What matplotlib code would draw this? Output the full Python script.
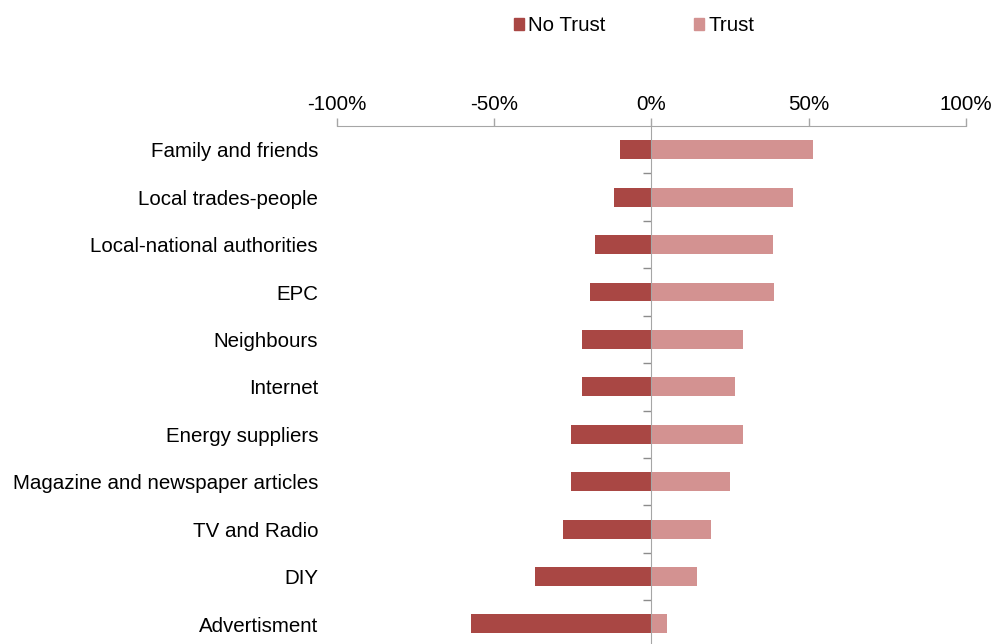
import matplotlib.pyplot as plt
from matplotlib.patches import Patch
from matplotlib.ticker import FixedLocator, FuncFormatter, NullFormatter

plt.rcParams['font.family'] = ['Liberation Sans', 'DejaVu Sans']

categories = ['Family and friends', 'Local trades-people', 'Local-national authorities',
              'EPC', 'Neighbours', 'Internet', 'Energy suppliers',
              'Magazine and newspaper articles', 'TV and Radio', 'DIY', 'Advertisment']
no_trust = [-10, -12, -18, -19.5, -22, -22, -25.5, -25.5, -28, -37, -57.5]
trust = [51.5, 45, 38.5, 39, 29, 26.5, 29, 25, 19, 14.5, 5]
xticks = [-100, -50, 0, 50, 100]

dark = '#A94744'
light = '#D39291'
grey = '#A6A6A6'

fig = plt.figure(figsize=(9.94, 6.44), dpi=100)
ax = fig.add_axes([0.339, -0.0056, 0.6328, 0.8099])

y = range(len(categories))
ax.barh(y, no_trust, height=0.4, color=dark)
ax.barh(y, trust, height=0.4, color=light)

ax.set_xlim(-100, 100)
ax.set_ylim(len(categories) - 0.5, -0.5)

# x axis on top
ax.xaxis.set_ticks_position('top')
ax.xaxis.set_major_locator(FixedLocator(xticks))
ax.xaxis.set_major_formatter(FuncFormatter(lambda v, p: '%d%%' % v))
ax.tick_params(axis='x', direction='out', length=6, width=1, color=grey,
               labelsize=14.8, pad=3)

# y axis through zero
ax.spines['left'].set_position(('data', 0))
ax.spines['left'].set_color(grey)
ax.spines['top'].set_color(grey)
ax.spines['right'].set_visible(False)
ax.spines['bottom'].set_visible(False)
ax.set_yticks([])
ax.yaxis.set_minor_locator(FixedLocator([i + 0.5 for i in range(len(categories) - 1)]))
ax.yaxis.set_minor_formatter(NullFormatter())
ax.tick_params(axis='y', which='minor', direction='out', length=6, width=1, color='#8C8C8C')

for i, c in enumerate(categories):
    ax.text(-0.03, i + 0.045, c, transform=ax.get_yaxis_transform(), ha='right',
            va='center', fontsize=14.8)

handles = [Patch(color=dark, label='No Trust'), Patch(color=light, label='Trust')]
fig.legend(handles=handles, loc='center', bbox_to_anchor=(0.638, 0.96), ncol=2,
           frameon=False, fontsize=14.8, handlelength=0.5, handleheight=0.5,
           handletextpad=0.2, columnspacing=4.3)

fig.savefig('out.png', dpi=100)
